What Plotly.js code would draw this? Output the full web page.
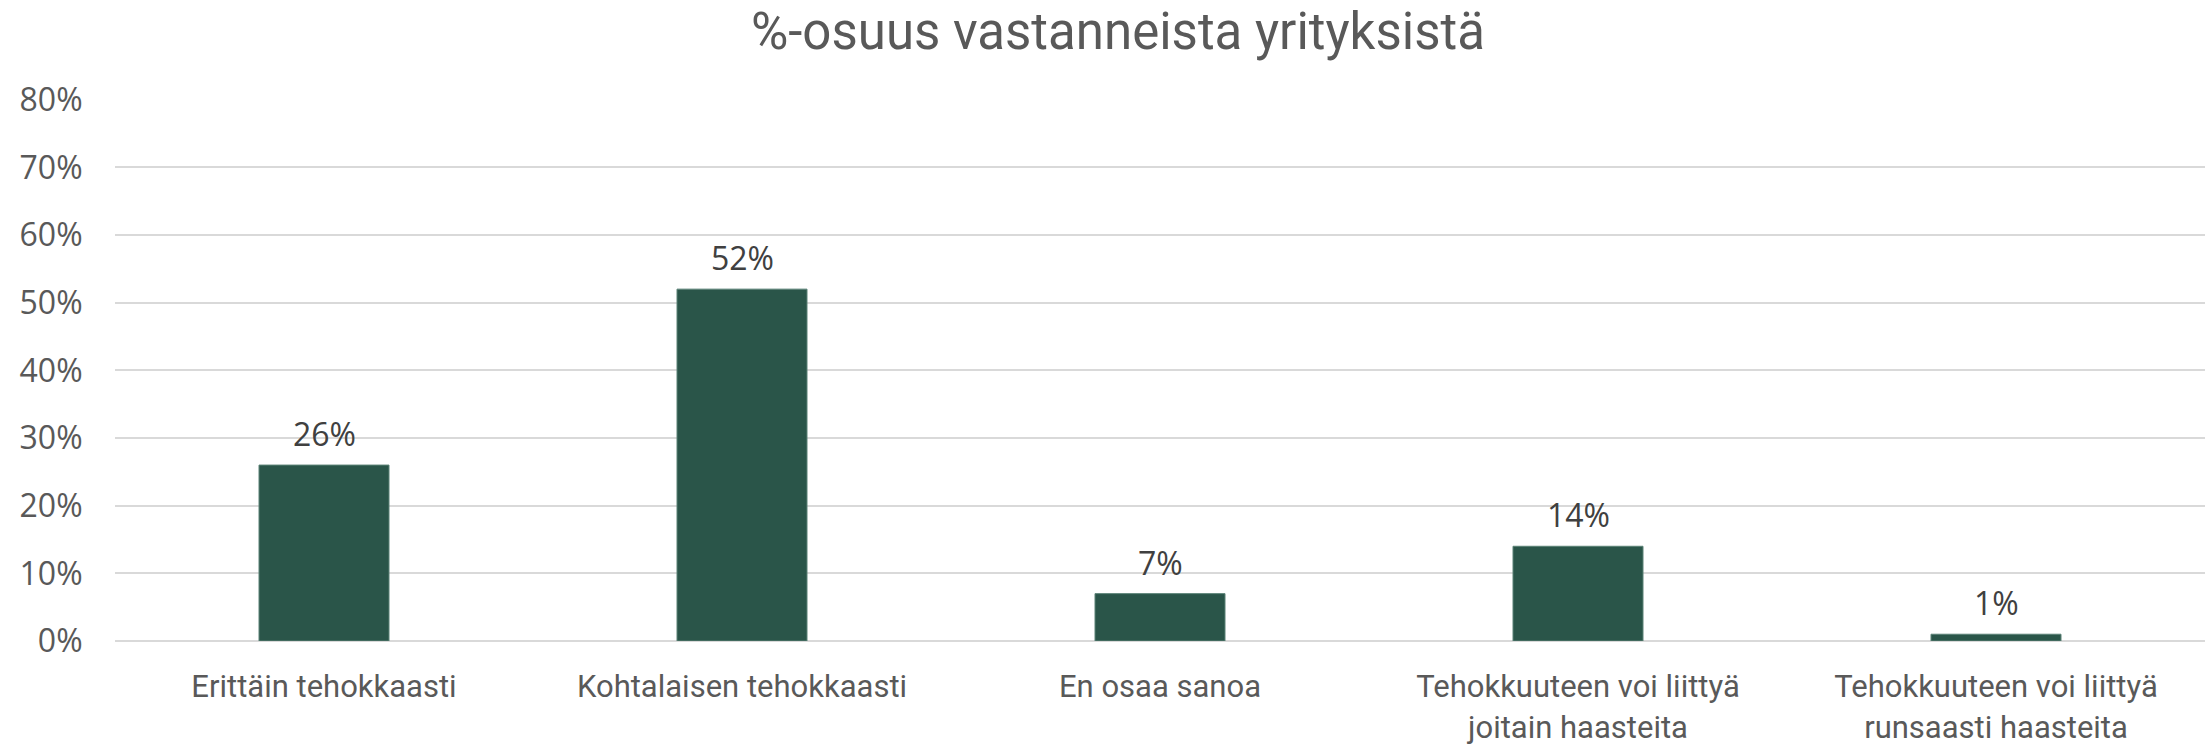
<!DOCTYPE html>
<html>
<head>
<meta charset="utf-8">
<script src="https://cdn.plot.ly/plotly-3.0.1.min.js"></script>
<style>html,body{margin:0;padding:0;background:#fff;}#chart{width:2205px;height:744px;}</style>
</head>
<body>
<div id="chart"></div>
<script>
const categories = [
  "Erittäin tehokkaasti",
  "Kohtalaisen tehokkaasti",
  "En osaa sanoa",
  "Tehokkuuteen voi liittyä<br>joitain haasteita",
  "Tehokkuuteen voi liittyä<br>runsaasti haasteita"
];
const values = [26, 52, 7, 14, 1];
const yTickValues = [0, 10, 20, 30, 40, 50, 60, 70, 80];
const yTickLabels = ["0%", "10%", "20%", "30%", "40%", "50%", "60%", "70%", "80%"];
const titleText = "%-osuus vastanneista yrityksistä";

const barColor = "#2a5549";
const textGrey = "#595959";

const trace = {
  type: "bar",
  x: categories,
  y: values,
  marker: {color: barColor, line: {color: "#5a8276", width: 1}},
  hoverinfo: "skip"
};

const annotations = values.map((v, i) => ({
  x: categories[i], y: v, xref: "x", yref: "y",
  text: v + "%", showarrow: false, yanchor: "bottom", yshift: 8,
  font: {family: "Open Sans, sans-serif", size: 32, color: "#404040"}
}));

const layout = {
  width: 2205, height: 744,
  margin: {l: 115, r: 0, t: 99, b: 103, pad: 0},
  paper_bgcolor: "#fff", plot_bgcolor: "#fff",
  title: {text: titleText, x: 0.507, xanchor: "center", y: 0.958, yanchor: "middle",
          font: {family: "Roboto, sans-serif", size: 51, color: textGrey}},
  showlegend: false,
  bargap: 0.689,
  xaxis: {
    type: "category", tickfont: {family: "Roboto, sans-serif", size: 31, color: textGrey},
    showgrid: false, showline: false, ticks: "outside", ticklen: 18, tickcolor: "rgba(0,0,0,0)",
    zeroline: false, automargin: false
  },
  yaxis: {
    range: [0, 80.1], tickvals: yTickValues, ticktext: yTickLabels,
    tickfont: {family: "Open Sans, sans-serif", size: 32, color: textGrey},
    showgrid: true, gridcolor: "#d9d9d9", gridwidth: 2, zeroline: true, zerolinecolor: "#d9d9d9", zerolinewidth: 2,
    showline: false, ticks: "outside", ticklen: 25, tickcolor: "rgba(0,0,0,0)", automargin: false
  },
  annotations: annotations
};

Plotly.newPlot("chart", [trace], layout, {displayModeBar: false, staticPlot: true});
</script>
</body>
</html>
